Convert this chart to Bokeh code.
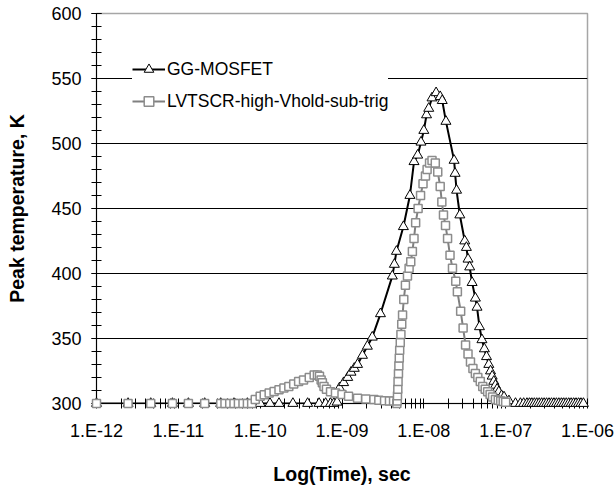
import numpy as np
from bokeh.plotting import figure
from bokeh.models import (Range1d, FixedTicker, SingleIntervalTicker, CustomJSTickFormatter,
                          Legend, LegendItem, ColumnDataSource)
from bokeh.embed import file_html
from bokeh.resources import INLINE

# ---- data ----
# GG-MOSFET: log10(time/s) and peak temperature (K)
gg_log_time = [-12.0, -11.614, -11.337, -11.072, -10.877, -10.678, -10.482, -10.32, -10.156, -10.0, -9.88,
               -9.77, -9.6, -9.42, -9.28, -9.2, -9.14, -9.1, -9.06,
               -9.03, -8.98, -8.93, -8.89, -8.85, -8.81, -8.75, -8.69, -8.63, -8.53,
               -8.385, -8.36, -8.335, -8.25, -8.17, -8.12, -8.075, -8.035, -8.0, -7.967, -7.94, -7.9, -7.85,
               -7.8, -7.775, -7.73, -7.63, -7.618, -7.6, -7.56, -7.5, -7.48, -7.46, -7.44, -7.41, -7.37,
               -7.35, -7.32, -7.29, -7.26, -7.234, -7.206, -7.185, -7.165, -7.145, -7.125, -7.105, -7.084,
               -7.05, -7.02, -6.96, -6.88, -6.82, -6.78, -6.74, -6.71, -6.68, -6.65, -6.62, -6.59, -6.56,
               -6.53, -6.5, -6.47, -6.44, -6.41, -6.38, -6.35, -6.32, -6.29, -6.26, -6.23, -6.2, -6.17,
               -6.14, -6.11, -6.08, -6.05]
gg_temp = [300, 300, 300, 300, 300, 300, 300, 300, 300, 300, 300,
           300, 300, 300, 300, 300, 300, 300, 301,
           312, 316, 320, 324, 327, 330, 337, 344, 351, 369,
           398, 407, 417, 436, 460, 486, 491, 501, 510, 522, 527, 535, 539,
           536, 533, 517, 487, 477, 464, 445, 425, 420, 411, 405, 393, 381,
           374, 359, 349, 342, 336, 330, 325, 321, 317, 314, 311, 309,
           306, 305, 302, 300, 300, 300, 300, 300, 300, 300, 300, 300, 300,
           300, 300, 300, 300, 300, 300, 300, 300, 300, 300, 300, 300, 300,
           300, 300, 300, 300]

# LVTSCR-high-Vhold-sub-trig
lv_log_time = [-12.0, -11.614, -11.337, -11.072, -10.877, -10.678, -10.482, -10.43, -10.372, -10.32, -10.266,
               -10.21, -10.156, -10.104, -10.06, -10.0, -9.95, -9.89, -9.83, -9.77, -9.71, -9.65, -9.59,
               -9.53, -9.47, -9.4, -9.34, -9.3, -9.275, -9.255, -9.24, -9.22, -9.19, -9.14, -9.08, -9.0,
               -8.92, -8.81, -8.71, -8.61, -8.55, -8.48, -8.42, -8.37, -8.33, -8.325, -8.322, -8.318,
               -8.315, -8.31, -8.305, -8.3, -8.295, -8.288, -8.28, -8.27, -8.26, -8.245, -8.225, -8.2,
               -8.18, -8.16, -8.14, -8.12, -8.1, -8.07, -8.04, -8.01, -7.98, -7.96, -7.93, -7.9, -7.86,
               -7.83, -7.8, -7.78, -7.76, -7.735, -7.71, -7.68, -7.65, -7.61, -7.59, -7.55, -7.52, -7.49,
               -7.46, -7.43, -7.4, -7.37, -7.34, -7.31, -7.28, -7.25, -7.22, -7.19, -7.16, -7.125, -7.09,
               -7.06, -7.03, -7.0]
lv_temp = [300, 300, 300, 300, 300, 300, 300, 300, 300, 300, 300,
           300, 300, 300, 303, 305.5, 306.7, 308, 309.3, 310.6, 312, 313, 315,
           317, 318, 320, 322, 322, 321, 318, 316, 313, 311, 309, 308, 307,
           305.5, 304, 303.4, 303, 302.5, 302.2, 302, 302, 300, 302, 306, 311,
           317, 323, 329, 335, 341, 347, 353, 361, 368, 380, 391, 398,
           404, 409, 417, 427, 439, 450, 460, 469, 475, 480, 485, 487, 485,
           478, 467, 455, 445, 437, 427, 414, 404, 394, 386, 371, 358, 345,
           338, 332, 327, 323, 320, 317, 313, 311, 309, 307, 305, 303, 302.5,
           302, 301.5, 301]

x_ticks = [1e-12, 1e-11, 1e-10, 1e-9, 1e-8, 1e-7, 1e-6]

FONT = "Liberation Sans"
TICK_SIZE = "18px"
TITLE_SIZE = "19.5px"

gg_src = ColumnDataSource(dict(t=10.0 ** np.array(gg_log_time), T=gg_temp))
lv_src = ColumnDataSource(dict(t=10.0 ** np.array(lv_log_time), T=lv_temp))

p = figure(width=615, height=487, x_axis_type="log",
           x_range=Range1d(1e-12, 1e-6), y_range=Range1d(300, 600),
           output_backend="svg", toolbar_location=None,
           min_border_left=96, min_border_right=28, min_border_top=13, min_border_bottom=0)

minor_x = [k * d for d in x_ticks[:-1] for k in range(2, 10)]
p.xaxis.ticker = FixedTicker(ticks=x_ticks, minor_ticks=minor_x)
p.xaxis.formatter = CustomJSTickFormatter(code="""
const e = Math.round(Math.log10(tick));
const a = Math.abs(e);
return '1.E' + (e < 0 ? '-' : '+') + (a < 10 ? '0' + a : '' + a);
""")
p.yaxis.ticker = SingleIntervalTicker(interval=50, num_minor_ticks=5)

for ax in (p.xaxis, p.yaxis):
    ax.axis_line_color = "black"
    ax.major_tick_line_color = "black"
    ax.minor_tick_line_color = "black"
    ax.major_tick_in = 5
    ax.major_tick_out = 5
    ax.minor_tick_in = 5
    ax.minor_tick_out = 5
    ax.major_label_text_font = FONT
    ax.major_label_text_font_size = TICK_SIZE
    ax.major_label_text_color = "black"
    ax.axis_label_text_font = FONT
    ax.axis_label_text_font_size = TITLE_SIZE
    ax.axis_label_text_font_style = "bold"
    ax.axis_label_text_color = "black"

p.xaxis.axis_label = "Log(Time), sec"
p.yaxis.axis_label = "Peak temperature, K"
p.xaxis.major_label_standoff = 12
p.yaxis.major_label_standoff = 10
p.xaxis.axis_label_standoff = 19
p.yaxis.axis_label_standoff = 20

p.xgrid.visible = False
p.ygrid.grid_line_color = "black"
p.ygrid.grid_line_width = 1
p.outline_line_color = "#a6a6a6"
p.outline_line_width = 1.5

gg_line = p.line("t", "T", source=gg_src, line_color="black", line_width=2)
gg_marks = p.scatter("t", "T", source=gg_src, marker="triangle", size=10,
                     fill_color="white", line_color="black", line_width=1, level="overlay")
lv_line = p.line("t", "T", source=lv_src, line_color="#808080", line_width=2)
lv_marks = p.scatter("t", "T", source=lv_src, marker="square", size=8,
                     fill_color="white", line_color="#8c8c8c", line_width=1.5, level="overlay")

legend = Legend(items=[LegendItem(label="GG-MOSFET", renderers=[gg_line, gg_marks]),
                       LegendItem(label="LVTSCR-high-Vhold-sub-trig", renderers=[lv_line, lv_marks])],
                location=(36, 290), glyph_width=33, glyph_height=24, label_height=24,
                label_standoff=2, spacing=8, padding=8, margin=0,
                border_line_color=None, background_fill_color="white", background_fill_alpha=1,
                label_text_font=FONT, label_text_font_size="17.5px", label_text_color="black")
p.add_layout(legend)

open("out.html", "w").write(file_html(p, INLINE))
